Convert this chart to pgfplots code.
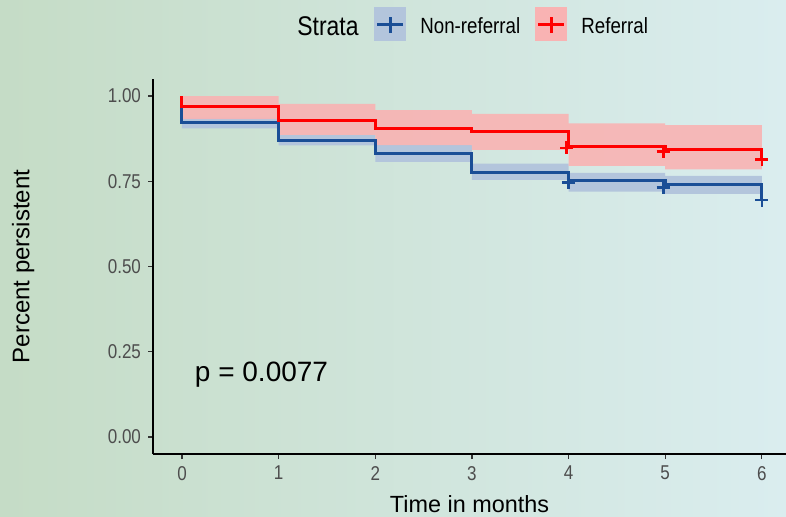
\documentclass[border=0pt]{standalone}
\usepackage{fontspec}
\setmainfont{Liberation Sans}[FakeStretch=0.85]
\newfontfamily\plainfont{Liberation Sans}
\usepackage{pgfplots}
\pgfplotsset{compat=1.18}
\definecolor{nrblue}{HTML}{1A4E96}
\definecolor{nrband}{HTML}{B3C5DC}
\definecolor{rred}{HTML}{FF0000}
\definecolor{rband}{HTML}{F9B3B3}
\definecolor{bgL}{HTML}{C5DCC6}
\definecolor{bgR}{HTML}{DAEDEF}
\definecolor{tickgray}{HTML}{4D4D4D}
\begin{document}
\begin{tikzpicture}
\useasboundingbox (0pt,0pt) rectangle (393pt,258pt);
\shade[left color=bgL,right color=bgR] (0pt,0pt) rectangle (393pt,258pt);
\begin{axis}[
  at={(76.5pt,31pt)}, anchor=south west,
  scale only axis, width=316.5pt, height=187.5pt,
  xmin=-0.3, xmax=6.25, ymin=-0.05, ymax=1.05,
  axis x line*=bottom, axis y line*=left,
  axis line style={black, line width=0.8pt},
  tick align=outside, major tick length=2.5pt,
  tick style={black!80, line width=0.6pt},
  xtick={0,1,2,3,4,5,6}, ytick={0,0.25,0.5,0.75,1},
  yticklabels={0.00,0.25,0.50,0.75,1.00},
  ticklabel style={font=\fontsize{10}{11}\selectfont, text=tickgray},
  /pgf/number format/assume math mode=true,
  xlabel={Time in months}, ylabel={Percent persistent},
  xlabel style={at={(axis description cs:0.5,-0.155)}, anchor=base, inner sep=0pt, font=\plainfont\fontsize{11.7}{13}\selectfont},
  ylabel style={at={(axis description cs:-0.205,0.5)}, anchor=center, font=\plainfont\fontsize{12}{14}\selectfont},
]
% Non-referral confidence band (upper steps, then lower steps back)
\addplot[fill=nrband, draw=none] coordinates {(0,0.937)(1,0.937)(1,0.886)(2,0.886)(2,0.856)(3,0.856)(3,0.802)(4,0.802)(4,0.775)(5,0.775)(5,0.766)(6,0.766)
  (6,0.713)(5,0.713)(5,0.720)(4,0.720)(4,0.754)(3,0.754)(3,0.807)(2,0.807)(2,0.855)(1,0.855)(1,0.905)(0,0.905)} -- cycle;
% Referral confidence band
\addplot[fill=rband, draw=none, fill opacity=0.9] coordinates {(0,1.000)(1,1.000)(1,0.977)(2,0.977)(2,0.959)(3,0.959)(3,0.948)(4,0.948)(4,0.920)(5,0.920)(5,0.915)(6,0.915)
  (6,0.785)(5,0.785)(5,0.795)(4,0.795)(4,0.842)(3,0.842)(3,0.856)(2,0.856)(2,0.886)(1,0.886)(1,0.932)(0,0.932)} -- cycle;
% Survival curves
\addplot[const plot, nrblue, line width=1.5pt] coordinates {(0,1.0)(0,0.921)(1,0.870)(2,0.831)(3,0.777)(4,0.751)(5,0.740)(6,0.695)};
\addplot[const plot, rred, line width=1.5pt] coordinates {(0,1.0)(0,0.969)(1,0.929)(2,0.904)(3,0.897)(4,0.851)(5,0.844)(6,0.815)};
% Censoring marks
\addplot[only marks, mark=+, mark size=3.3pt, nrblue, line width=1.3pt] coordinates {(4,0.746)(4.98,0.732)(6,0.695)};
\addplot[only marks, mark=+, mark size=3.3pt, rred, line width=1.3pt] coordinates {(3.98,0.848)(4.98,0.838)(6,0.814)};
\node[anchor=base west, inner sep=0pt, font=\plainfont\fontsize{14}{16}\selectfont] at (axis cs:0.13,0.162) {p = 0.0077};
\end{axis}
% Legend
\node[anchor=base west, inner sep=0pt, font=\fontsize{13.5}{15}\selectfont] at (148.5pt,240.5pt) {Strata};
\fill[nrband] (187pt,237.5pt) rectangle (203pt,254.5pt);
\draw[nrblue, line width=1.5pt] (188.5pt,246pt) -- (201.5pt,246pt);
\draw[nrblue, line width=1.5pt] (195pt,241.5pt) -- (195pt,249.5pt);
\node[anchor=base west, inner sep=0pt, font=\fontsize{11}{13}\selectfont] at (210pt,241.5pt) {Non-referral};
\fill[rband] (267.5pt,237.5pt) rectangle (283.5pt,254.5pt);
\draw[rred, line width=1.5pt] (269pt,246pt) -- (282pt,246pt);
\draw[rred, line width=1.5pt] (275.5pt,241.5pt) -- (275.5pt,249.5pt);
\node[anchor=base west, inner sep=0pt, font=\fontsize{11}{13}\selectfont] at (290.5pt,241.5pt) {Referral};
\end{tikzpicture}
\end{document}
